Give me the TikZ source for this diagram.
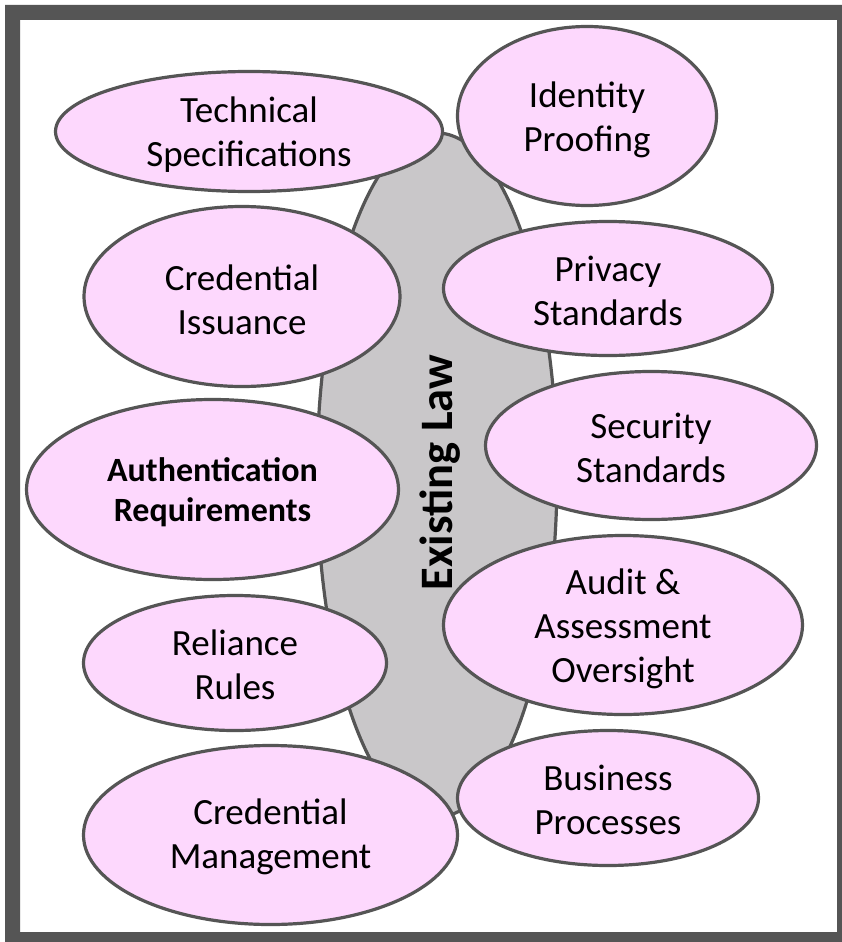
\documentclass[tikz,border=0pt]{standalone}
\usepackage{fontspec}
\setmainfont{Carlito}
\usetikzlibrary{shapes.geometric}
\definecolor{pinkfill}{HTML}{FDD8FD}
\definecolor{edgegray}{HTML}{555555}
\definecolor{lawgray}{HTML}{C9C7C9}
\begin{document}
\begin{tikzpicture}[x=1pt,y=-1pt,
  topic/.style={ellipse, draw=edgegray, line width=3.2pt, fill=pinkfill, inner sep=0pt},
  txt/.style={align=center, inner sep=0pt, font=\fontsize{37}{44}\selectfont},
  boldtxt/.style={txt, font=\bfseries\fontsize{34}{40}\selectfont},
  lawshape/.style={ellipse, draw=edgegray, line width=3.2pt, fill=lawgray, inner sep=0pt},
  lawlabel/.style={anchor=base, rotate=90, font=\bfseries\fontsize{46.5}{54}\selectfont}
]
\useasboundingbox (0,0) rectangle (842,942);
\fill[white] (0,0) rectangle (842,942);
\fill[edgegray, even odd rule] (5,5) rectangle (842,942) (20,20) rectangle (837,932);

\node[lawshape, minimum width=240, minimum height=684] (law) at (437,475) {};
\node[lawlabel] (lawtext) at (452,472.5) {Existing Law};

\node[topic, minimum width=387, minimum height=120] (tech) at (249,131.5) {};
\node[topic, minimum width=259, minimum height=179] (ident) at (587,116) {};
\node[topic, minimum width=316, minimum height=180] (issu) at (242,296.5) {};
\node[topic, minimum width=329, minimum height=134] (priv) at (608,288.5) {};
\node[topic, minimum width=331, minimum height=148] (sec) at (651,445.5) {};
\node[topic, minimum width=372, minimum height=180] (auth) at (212.5,489.5) {};
\node[topic, minimum width=359, minimum height=179] (audit) at (623,625) {};
\node[topic, minimum width=303, minimum height=135] (rel) at (235,663) {};
\node[topic, minimum width=301, minimum height=135] (bus) at (608,798) {};
\node[topic, minimum width=374, minimum height=179] (mgmt) at (270.5,835) {};

\node[txt] (techt) at ([yshift=-3pt]tech.center) {Technical\\Specifications};
\node[txt] (identt) at ([yshift=-4pt]ident.center) {Identity\\Proofing};
\node[txt] (issut) at ([yshift=-3pt]issu.center) {Credential\\Issuance};
\node[txt] (privt) at ([yshift=-2pt]priv.center) {Privacy\\Standards};
\node[txt] (sect) at ([yshift=-2pt]sec.center) {Security\\Standards};
\node[boldtxt] (autht) at ([yshift=-3pt]auth.center) {Authentication\\Requirements};
\node[txt] (auditt) at ([yshift=-4pt]audit.center) {Audit \&\\Assessment\\Oversight};
\node[txt] (relt) at ([yshift=-2pt]rel.center) {Reliance\\Rules};
\node[txt] (bust) at ([yshift=-2pt]bus.center) {Business\\Processes};
\node[txt] (mgmtt) at ([yshift=-2pt]mgmt.center) {Credential\\Management};
\end{tikzpicture}
\end{document}
